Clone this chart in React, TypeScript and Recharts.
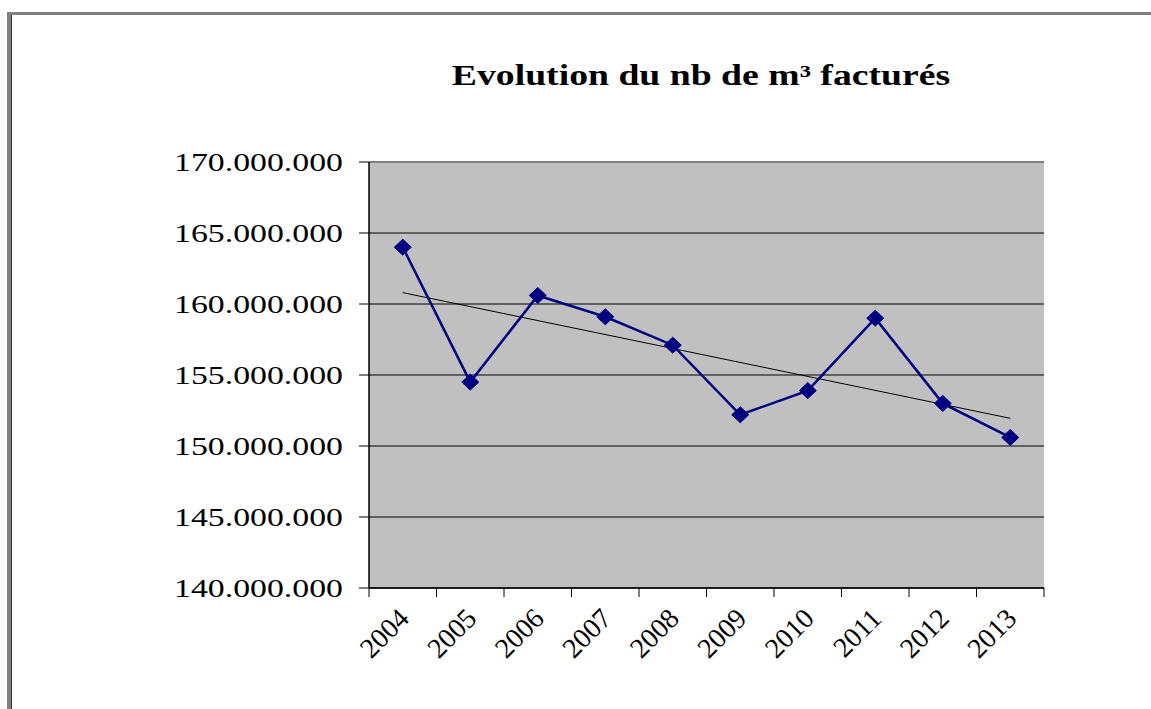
import {
  CartesianGrid,
  Line,
  LineChart,
  ReferenceLine,
  XAxis,
  YAxis,
} from "recharts";

const years = ["2004", "2005", "2006", "2007", "2008", "2009", "2010", "2011", "2012", "2013"];
const m3Billed = [
  164000000, 154500000, 160600000, 159100000, 157100000,
  152200000, 153900000, 159000000, 153000000, 150600000,
];
// linear trend line, read at its two ends
const trendEnds = [160800000, 151950000];
const yTicks = [140000000, 145000000, 150000000, 155000000, 160000000, 165000000, 170000000];

const data = years.map((year, i) => ({
  year,
  m3: m3Billed[i],
  trend: i === 0 ? trendEnds[0] : i === years.length - 1 ? trendEnds[1] : null,
}));

const W = 1151;
const H = 709;
const PLOT_LEFT = 369;
const PLOT_RIGHT = 1044;
const PLOT_TOP = 162;
const PLOT_BOTTOM = 588;
const Y_AXIS_W = 200;
const X_AXIS_H = 80;
const BAND = (PLOT_RIGHT - PLOT_LEFT) / years.length;
const FONT = "Liberation Serif, Times New Roman, serif";

const fmt = (v: number) => v.toLocaleString("de-DE");

const YTick = ({ x, y, payload }: any) => (
  <text
    x={x}
    y={y}
    dy="0.36em"
    textAnchor="end"
    fontFamily={FONT}
    fontSize={26}
    fill="#000"
    transform={`translate(${x} ${y}) scale(1.3 1) translate(${-x} ${-y})`}
  >
    {fmt(payload.value)}
  </text>
);

const XTick = ({ x, payload, index }: any) => {
  const lx = x + 8;
  const ly = PLOT_BOTTOM + 32;
  return (
    <g>
      <line x1={x - BAND / 2} x2={x - BAND / 2} y1={PLOT_BOTTOM} y2={PLOT_BOTTOM + 9} stroke="#000" />
      {index === years.length - 1 && (
        <line x1={x + BAND / 2} x2={x + BAND / 2} y1={PLOT_BOTTOM} y2={PLOT_BOTTOM + 9} stroke="#000" />
      )}
      <text
        x={lx}
        y={ly}
        textAnchor="end"
        fontFamily={FONT}
        fontSize={28}
        fill="#000"
        transform={`rotate(-45 ${lx} ${ly})`}
      >
        {payload.value}
      </text>
    </g>
  );
};

const Diamond = ({ cx, cy }: any) =>
  cx == null || cy == null ? null : (
    <polygon
      points={`${cx},${cy - 8} ${cx + 8.5},${cy} ${cx},${cy + 8} ${cx - 8.5},${cy}`}
      fill="#000080"
      stroke="#000080"
    />
  );

export default function App() {
  return (
    <div style={{ position: "absolute", left: 0, top: 0, width: W, height: H, background: "#fff", overflow: "hidden" }}>
      <div
        style={{
          position: "absolute",
          left: 7,
          top: 12,
          width: W - 7,
          height: H - 12,
          borderTop: "3px solid #808080",
          borderLeft: "4px solid #808080",
          boxShadow: "inset 1px 0 0 #333",
          boxSizing: "border-box",
        }}
      />
      <div
        style={{
          position: "absolute",
          left: 701,
          top: 61,
          transform: "translateX(-50%) scaleX(1.3)",
          fontFamily: FONT,
          fontWeight: "bold",
          fontSize: 29,
          lineHeight: "29px",
          whiteSpace: "nowrap",
          color: "#000",
        }}
      >
        Evolution du nb de m³ facturés
      </div>
      <div style={{ position: "absolute", left: 0, top: 0 }}>
        <LineChart
          width={W}
          height={H}
          data={data}
          margin={{
            top: PLOT_TOP,
            right: W - PLOT_RIGHT,
            left: PLOT_LEFT - Y_AXIS_W,
            bottom: H - PLOT_BOTTOM - X_AXIS_H,
          }}
        >
          <CartesianGrid vertical={false} fill="#C0C0C0" stroke="#000" strokeOpacity={1} />
          <XAxis
            dataKey="year"
            scale="band"
            height={X_AXIS_H}
            interval={0}
            tickLine={false}
            axisLine={{ stroke: "#000", strokeWidth: 1.5 }}
            tick={<XTick />}
          />
          <YAxis
            width={Y_AXIS_W}
            domain={[140000000, 170000000]}
            ticks={yTicks}
            tickSize={10}
            tickMargin={16}
            tickLine={{ stroke: "#000" }}
            axisLine={{ stroke: "#000", strokeWidth: 1.5 }}
            tick={<YTick />}
          />
          <YAxis
            yAxisId="right"
            orientation="right"
            width={0}
            domain={[140000000, 170000000]}
            tick={false}
            tickLine={false}
            axisLine={{ stroke: "#808080", strokeWidth: 2 }}
          />
          <ReferenceLine y={170000000} stroke="#808080" strokeWidth={2} />
          <Line
            dataKey="trend"
            stroke="#000"
            strokeWidth={1}
            dot={false}
            connectNulls
            isAnimationActive={false}
          />
          <Line
            dataKey="m3"
            stroke="#000080"
            strokeWidth={2.5}
            dot={<Diamond />}
            activeDot={false}
            isAnimationActive={false}
          />
        </LineChart>
      </div>
    </div>
  );
}
